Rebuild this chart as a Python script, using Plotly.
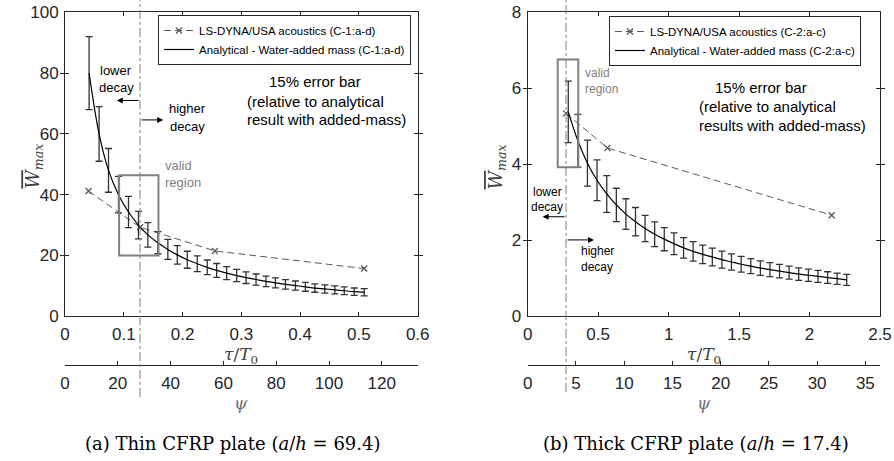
import plotly.graph_objects as go

# ---------------- Panel (a): thin CFRP plate ----------------
tau_a = [0.041, 0.058, 0.074, 0.091, 0.108, 0.125, 0.141, 0.158, 0.175, 0.191,
         0.208, 0.225, 0.242, 0.258, 0.275, 0.292, 0.308, 0.325, 0.342, 0.358,
         0.375, 0.392, 0.409, 0.425, 0.442, 0.459, 0.475, 0.492, 0.509]
w_a = [80.0, 60.0, 48.0, 40.0, 34.3, 30.0, 26.8, 24.2, 22.0, 20.2,
       18.6, 17.3, 16.1, 15.1, 14.2, 13.4, 12.7, 12.1, 11.5, 11.0,
       10.5, 10.1, 9.7, 9.3, 9.0, 8.7, 8.4, 8.1, 7.9]
ls_tau_a = [0.040, 0.1276, 0.255, 0.509]
ls_w_a = [41.2, 29.3, 21.5, 15.7]
cut_a = 0.1276
box_a = [0.092, 0.159, 20.0, 46.4]

# ---------------- Panel (b): thick CFRP plate ----------------
tau_b = [0.288, 0.356, 0.424, 0.492, 0.561, 0.629, 0.697, 0.765, 0.833, 0.901,
         0.969, 1.038, 1.106, 1.174, 1.242, 1.310, 1.378, 1.446, 1.515, 1.583,
         1.651, 1.719, 1.787, 1.855, 1.923, 1.992, 2.060, 2.128, 2.196, 2.264]
w_b = [5.38, 4.62, 4.03, 3.58, 3.22, 2.93, 2.69, 2.49, 2.31, 2.16,
       2.03, 1.91, 1.80, 1.71, 1.63, 1.56, 1.49, 1.43, 1.37, 1.32,
       1.27, 1.23, 1.19, 1.15, 1.11, 1.08, 1.05, 1.02, 0.99, 0.96]
ls_tau_b = [0.272, 0.565, 2.157]
ls_w_b = [5.34, 4.43, 2.66]
cut_b = 0.272
box_b = [0.213, 0.359, 3.92, 6.76]

x_ticks_a = [0, 0.1, 0.2, 0.3, 0.4, 0.5, 0.6]
psi_ticks_a = [0, 20, 40, 60, 80, 100, 120]
x_ticks_b = [0, 0.5, 1, 1.5, 2, 2.5]
psi_ticks_b = [0, 5, 10, 15, 20, 25, 30, 35]

legend_a = ["LS-DYNA/USA acoustics (C-1:a-d)", "Analytical - Water-added mass (C-1:a-d)"]
legend_b = ["LS-DYNA/USA acoustics (C-2:a-c)", "Analytical - Water-added mass (C-2:a-c)"]

SANS = "Liberation Sans, Arial, sans-serif"
SERIF = "DejaVu Serif, serif"
AX = "#262626"

fig = go.Figure()

def add_panel(xa, ya, tau, w, ls_tau, ls_w, names, legend):
    fig.add_trace(go.Scatter(
        x=ls_tau, y=ls_w, xaxis=xa, yaxis=ya, name=names[0], legend=legend,
        mode="lines+markers",
        line=dict(color="#5a5a5a", width=1, dash="7px,4px"),
        marker=dict(symbol="x-thin-open", size=6, line=dict(color="#222", width=1.3)),
    ))
    fig.add_trace(go.Scatter(
        x=tau, y=w, xaxis=xa, yaxis=ya, name=names[1], legend=legend,
        mode="lines", line=dict(color="black", width=1.2, shape="spline"),
        error_y=dict(type="percent", value=15, color="#333", thickness=1.3, width=3.5),
    ))

add_panel("x", "y", tau_a, w_a, ls_tau_a, ls_w_a, legend_a, "legend")
add_panel("x2", "y2", tau_b, w_b, ls_tau_b, ls_w_b, legend_b, "legend2")

# invisible traces to carry the psi axes
fig.add_trace(go.Scatter(x=[0], y=[-10], xaxis="x3", yaxis="y", showlegend=False,
                         mode="markers", marker=dict(opacity=0), hoverinfo="skip"))
fig.add_trace(go.Scatter(x=[0], y=[-10], xaxis="x4", yaxis="y2", showlegend=False,
                         mode="markers", marker=dict(opacity=0), hoverinfo="skip"))

W, H = 894, 461
ydom = [1 - 316.3 / H, 1 - 12.3 / H]
xdom_a = [65 / W, 417.7 / W]
xdom_b = [527.7 / W, 880 / W]
psi_pos = 1 - 365 / H

common = dict(showline=True, linecolor=AX, linewidth=1, ticks="inside", ticklen=4,
              tickcolor=AX, showgrid=False, zeroline=False, automargin=False,
              tickfont=dict(family=SANS, size=17, color=AX))

fig.update_layout(
    width=W, height=H, margin=dict(l=0, r=0, t=0, b=0, autoexpand=False),
    paper_bgcolor="white", plot_bgcolor="white", showlegend=True,
    xaxis=dict(domain=xdom_a, range=[0, 0.6], anchor="y", tickvals=x_ticks_a,
               mirror="allticks", ticklabelstandoff=2, **common),
    yaxis=dict(domain=ydom, range=[0, 100], anchor="x", dtick=20,
               mirror="allticks", ticklabelstandoff=2, **common),
    xaxis2=dict(domain=xdom_b, range=[0, 2.5], anchor="y2", tickvals=x_ticks_b,
                mirror="allticks", ticklabelstandoff=2, **common),
    yaxis2=dict(domain=ydom, range=[0, 8], anchor="x2", dtick=2,
                mirror="allticks", ticklabelstandoff=2, **common),
    xaxis3=dict(overlaying="x", anchor="free", position=psi_pos, side="bottom",
                range=[0, 133.6], tickvals=psi_ticks_a, ticklabelstandoff=3, **common),
    xaxis4=dict(overlaying="x2", anchor="free", position=psi_pos, side="bottom",
                range=[0, 36.52], tickvals=psi_ticks_b, ticklabelstandoff=3, **common),
    legend=dict(x=158 / W, y=1 - 15 / H, xanchor="left", yanchor="top",
                bgcolor="white", bordercolor=AX, borderwidth=1, itemwidth=30,
                font=dict(family=SANS, size=11.5, color="black"),
                tracegroupgap=0),
    legend2=dict(x=609 / W, y=1 - 16 / H, xanchor="left", yanchor="top",
                 bgcolor="white", bordercolor=AX, borderwidth=1, itemwidth=30,
                 font=dict(family=SANS, size=11.5, color="black"),
                 tracegroupgap=0),
)

# vertical dash-dot lines and valid-region boxes
for xr, cut, ybot in [("x", cut_a, 1 - 397 / H), ("x2", cut_b, 1 - 392 / H)]:
    fig.add_shape(type="line", xref=xr, yref="paper", x0=cut, x1=cut, y0=ybot, y1=1.0,
                  line=dict(color="#808080", width=1, dash="dashdot"), layer="above")
for xr, yr, b in [("x", "y", box_a), ("x2", "y2", box_b)]:
    fig.add_shape(type="rect", xref=xr, yref=yr, x0=b[0], x1=b[1], y0=b[2], y1=b[3],
                  line=dict(color="#808080", width=2), fillcolor="rgba(0,0,0,0)")

def txt(xr, yr, x, y, text, size, color="black", xanchor="center", family=SANS):
    fig.add_annotation(xref=xr, yref=yr, x=x, y=y, text=text, showarrow=False,
                       xanchor=xanchor, yanchor="middle",
                       font=dict(family=family, size=size, color=color))

def arrow(xr, yr, x0, x1, y):
    fig.add_annotation(xref=xr, yref=yr, axref=xr, ayref=yr, x=x1, y=y, ax=x0, ay=y,
                       text="", showarrow=True, arrowhead=2, arrowsize=1.2,
                       arrowwidth=1, arrowcolor="black")

# panel (a) texts
txt("x", "y", 0.087, 80.7, "lower", 13)
txt("x", "y", 0.087, 75.3, "decay", 13)
txt("x", "y", 0.209, 68.2, "higher", 13)
txt("x", "y", 0.209, 62.6, "decay", 13)
txt("x", "y", 0.1667, 49.5, "valid", 13, "#808080", "left")
txt("x", "y", 0.1667, 44.1, "region", 13, "#808080", "left")
arrow("x", "y", cut_a, 0.088, 71.0)
arrow("x", "y", cut_a, 0.167, 64.6)
txt("x", "y", 0.344, 77.4, "15% error bar", 15, xanchor="left")
txt("x", "y", 0.307, 70.8, "(relative to analytical", 15, xanchor="left")
txt("x", "y", 0.307, 64.6, "result with added-mass)", 15, xanchor="left")

# panel (b) texts
txt("x2", "y2", 0.139, 3.28, "lower", 12)
txt("x2", "y2", 0.139, 2.87, "decay", 12)
txt("x2", "y2", 0.494, 1.72, "higher", 12)
txt("x2", "y2", 0.494, 1.29, "decay", 12)
txt("x2", "y2", 0.395, 6.39, "valid", 12, "#808080", "left")
txt("x2", "y2", 0.395, 5.97, "region", 12, "#808080", "left")
arrow("x2", "y2", cut_b, 0.106, 2.62)
arrow("x2", "y2", cut_b, 0.47, 2.01)
txt("x2", "y2", 1.317, 6.03, "15% error bar", 15, xanchor="left")
txt("x2", "y2", 1.199, 5.53, "(relative to analytical", 15, xanchor="left")
txt("x2", "y2", 1.199, 5.03, "results with added-mass)", 15, xanchor="left")

# axis titles and captions
ytitle = ('<span style="text-decoration:overline"><i>W</i></span>'
          '<sub><i>max</i></sub>')
for xp in [20 / W, 496.7 / W]:
    fig.add_annotation(xref="paper", yref="paper", x=xp, y=1 - 166.7 / H, text=ytitle,
                       textangle=-90, showarrow=False,
                       font=dict(family=SERIF, size=18, color="#404040"))
for xc in [241.3 / W, 703.8 / W]:
    txt("paper", "paper", xc, 1 - 355 / H, "<i>τ</i>/<i>T</i><sub>0</sub>", 17, "#404040",
        family=SERIF)
    txt("paper", "paper", xc, 1 - 403 / H, "<i>ψ</i>", 17, "#707070", family=SERIF)
for xc, cap in [(233 / W, "(a) Thin CFRP plate (<i>a</i>/<i>h</i> = 69.4)"),
                (696 / W, "(b) Thick CFRP plate (<i>a</i>/<i>h</i> = 17.4)")]:
    txt("paper", "paper", xc, 1 - 443 / H, cap, 18, "black", family=SERIF)

fig.write_html(
    "out.html",
    post_script="document.body.style.margin='0';document.body.style.padding='0';"
                "document.body.style.overflow='hidden';",
)
